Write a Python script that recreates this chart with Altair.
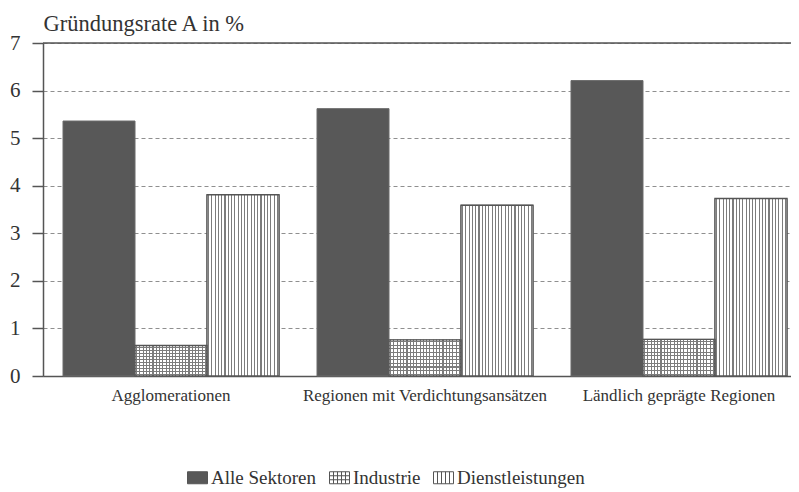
import altair as alt
import pandas as pd

# ---- data ----
regions = ["Agglomerationen", "Regionen mit Verdichtungsansätzen", "Ländlich geprägte Regionen"]
sektoren = ["Alle Sektoren", "Industrie", "Dienstleistungen"]
alle_sektoren = [5.36, 5.62, 6.21]
industrie = [0.64, 0.76, 0.77]
dienstleistungen = [3.81, 3.59, 3.73]
y_ticks = [0, 1, 2, 3, 4, 5, 6, 7]
y_title = "Gründungsrate A in %"

rows = []
for i, r in enumerate(regions):
    for s, vals in zip(sektoren, [alle_sektoren, industrie, dienstleistungen]):
        rows.append({"Region": r, "Sektor": s, "Wert": vals[i]})
df = pd.DataFrame(rows)

FONT = "Liberation Serif"
TEXT = "#333333"
LINE = "#555555"
DARK = "#585858"
HATCH = "#7c7c7c"


def stripes(n, frac, color, bg, vertical_lines=True):
    stops = [{"offset": 0, "color": bg}]
    for i in range(n):
        c = (i + 0.5) / n
        a, b = c - frac / 2, c + frac / 2
        stops += [{"offset": a, "color": bg}, {"offset": a, "color": color},
                  {"offset": b, "color": color}, {"offset": b, "color": bg}]
    stops.append({"offset": 1, "color": bg})
    if vertical_lines:
        return {"gradient": "linear", "stops": stops, "x1": 0, "x2": 1, "y1": 0, "y2": 0}
    return {"gradient": "linear", "stops": stops, "x1": 0, "x2": 0, "y1": 0, "y2": 1}


# legend swatch paths (unit box -1..1)
p_rect = "M-1,-0.6H1V0.6H-1Z"
p_grid = p_rect + " M-0.6,-0.6V0.6 M-0.2,-0.6V0.6 M0.2,-0.6V0.6 M0.6,-0.6V0.6 M-1,-0.2H1 M-1,0.2H1"
p_vert = p_rect + " M-0.6,-0.6V0.6 M-0.2,-0.6V0.6 M0.2,-0.6V0.6 M0.6,-0.6V0.6"

x_enc = alt.X(
    "Region:N", sort=regions,
    scale=alt.Scale(domain=regions, paddingInner=0.1496, paddingOuter=0.0473, align=0.833),
    axis=alt.Axis(title=None, ticks=False, labelAngle=0, labelFont=FONT, labelFontSize=17,
                  labelColor=TEXT, labelPadding=11, labelLimit=400,
                  domainColor=LINE, domainWidth=1.5, grid=False),
)
xo_enc = alt.XOffset("Sektor:N", sort=sektoren,
                     scale=alt.Scale(domain=sektoren, paddingInner=0, paddingOuter=0))
y_enc = alt.Y(
    "Wert:Q",
    scale=alt.Scale(domain=[0, 7], nice=False, zero=True),
    axis=alt.Axis(values=y_ticks, title=y_title, titleAngle=0, titleAlign="left",
                  titleBaseline="alphabetic", titleX=0, titleY=-13, titleFont=FONT,
                  titleFontSize=22.5, titleFontWeight="normal", titleColor=TEXT,
                  labelFont=FONT, labelFontSize=21, labelColor=TEXT, labelPadding=12,
                  tickSize=11, tickColor=LINE, tickWidth=1.5,
                  domainColor=LINE, domainWidth=1.5,
                  grid=True, gridDash=[4, 3], gridColor="#8f8f8f", gridWidth=1),
)

leg = dict(title=None, orient="none", legendX=144, legendY=424, direction="horizontal",
           symbolSize=400, symbolStrokeColor=LINE, symbolStrokeWidth=1, symbolOpacity=1,
           labelFont=FONT, labelFontSize=19, labelColor=TEXT, labelOffset=3,
           columnPadding=10, padding=0, labelLimit=300)

base = alt.Chart(df)

bars = base.mark_bar(stroke="#6a6a6a", strokeWidth=1).encode(
    x=x_enc, xOffset=xo_enc, y=y_enc,
    color=alt.Color("Sektor:N", sort=sektoren,
                    scale=alt.Scale(domain=sektoren, range=[DARK, "white", "white"]),
                    legend=alt.Legend(**leg)),
)

dienst_pat = base.transform_filter(alt.datum.Sektor == "Dienstleistungen").mark_bar(
    fill=stripes(22, 0.016, HATCH, "#ffffff", True)
).encode(x=x_enc, xOffset=xo_enc, y=y_enc)

ind_v = base.transform_filter(alt.datum.Sektor == "Industrie").mark_bar(
    fill=stripes(22, 0.016, HATCH, "#ffffff", True)
).encode(x=x_enc, xOffset=xo_enc, y=y_enc)

ind_h = base.transform_filter(alt.datum.Sektor == "Industrie").mark_bar(
    fill=stripes(10, 0.032, HATCH, "rgba(255,255,255,0)", False)
).encode(x=x_enc, xOffset=xo_enc, y=y_enc)

outline = base.transform_filter(alt.datum.Sektor != "Alle Sektoren").mark_bar(
    fillOpacity=0, stroke=LINE, strokeWidth=1.4
).encode(x=x_enc, xOffset=xo_enc, y=y_enc)

top_rule = alt.Chart(pd.DataFrame({"k": [0]})).mark_rule(color=LINE, strokeWidth=1.5).encode(
    y=alt.datum(7)
)

legend_pts = base.mark_point(opacity=0).encode(
    x=x_enc, xOffset=xo_enc, y=y_enc,
    shape=alt.Shape("Sektor:N", sort=sektoren,
                    scale=alt.Scale(domain=sektoren, range=[p_rect, p_grid, p_vert]),
                    legend=alt.Legend(**leg)),
)

chart = alt.layer(bars, dienst_pat, ind_v, ind_h, outline, top_rule, legend_pts).properties(
    width=748, height=333,
    autosize=alt.AutoSizeParams(type="none"),
    padding={"left": 35, "top": 35, "right": 0, "bottom": 122},
).configure_view(stroke="transparent").configure(
    font=FONT, background="white"
).configure_legend(
    labelFont=FONT, labelFontSize=19, labelColor=TEXT, labelOffset=3,
    symbolSize=400, symbolStrokeColor=LINE, symbolStrokeWidth=1, columnPadding=10,
    labelLimit=300, padding=0
)

chart.save("out.html", embed_options={"renderer": "svg", "actions": False})
